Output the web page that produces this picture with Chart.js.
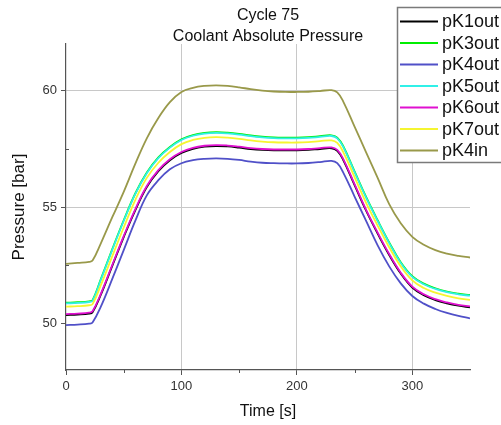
<!DOCTYPE html>
<html>
<head>
<meta charset="utf-8">
<script src="https://cdn.jsdelivr.net/npm/chart.js@4"></script>
<style>
html,body{margin:0;padding:0;background:#fff;}
#wrap{width:501px;height:425px;}
</style>
</head>
<body>
<div id="wrap"><canvas id="c" width="501" height="425"></canvas></div>
<script>
const titleLines = ['Cycle 75', 'Coolant Absolute Pressure'];
const xTitle = 'Time [s]';
const yTitle = 'Pressure [bar]';
const seriesNames = ['pK1out','pK3out','pK4out','pK5out','pK6out','pK7out','pK4in'];
const xMinorTicks = [50, 150, 250];
const yMinorTicks = [52.5, 57.5];

const times = [0,10,20,23,30,40,50,60,70,80,90,100,110,120,130,140,150,160,170,180,190,200,210,220,230,235,240,250,260,270,280,290,300,310,320,330,340,350];

const pK1out = [50.36,50.38,50.42,50.48,51.21,52.46,53.71,54.86,55.86,56.54,57.01,57.32,57.50,57.59,57.62,57.60,57.55,57.49,57.45,57.43,57.43,57.43,57.45,57.49,57.52,57.41,57.04,55.94,54.84,53.86,52.94,52.14,51.54,51.21,51.00,50.86,50.76,50.69];
const pK3out = [50.89,50.91,50.95,51.00,51.88,53.18,54.43,55.58,56.48,57.13,57.58,57.91,58.09,58.18,58.21,58.19,58.14,58.07,58.02,57.99,57.98,57.98,58.00,58.04,58.08,57.98,57.63,56.53,55.43,54.43,53.48,52.63,52.03,51.71,51.51,51.37,51.28,51.22];
const pK4out = [49.93,49.95,49.99,50.04,50.70,51.90,53.15,54.40,55.50,56.15,56.62,56.88,57.01,57.07,57.09,57.07,57.02,56.95,56.90,56.88,56.87,56.87,56.89,56.93,56.98,56.88,56.50,55.45,54.40,53.35,52.45,51.72,51.18,50.85,50.62,50.45,50.32,50.22];
const pK5out = [50.86,50.88,50.92,50.97,51.85,53.15,54.40,55.55,56.45,57.10,57.55,57.88,58.06,58.15,58.18,58.16,58.11,58.04,57.99,57.96,57.95,57.95,57.97,58.01,58.05,57.95,57.60,56.50,55.40,54.40,53.45,52.60,52.00,51.68,51.48,51.34,51.25,51.19];
const pK6out = [50.40,50.42,50.46,50.52,51.25,52.50,53.75,54.90,55.90,56.58,57.05,57.36,57.54,57.63,57.66,57.64,57.59,57.53,57.49,57.47,57.47,57.47,57.49,57.53,57.56,57.45,57.08,55.98,54.88,53.90,52.98,52.18,51.58,51.25,51.04,50.90,50.80,50.73];
const pK7out = [50.72,50.74,50.78,50.83,51.62,52.88,54.12,55.30,56.25,56.90,57.36,57.70,57.88,57.97,58.00,57.98,57.93,57.86,57.81,57.78,57.77,57.77,57.79,57.83,57.86,57.75,57.38,56.28,55.18,54.20,53.27,52.45,51.85,51.52,51.32,51.18,51.08,51.01];
const pK4in = [52.56,52.60,52.64,52.70,53.42,54.55,55.65,56.85,57.95,58.82,59.50,59.94,60.12,60.20,60.22,60.20,60.14,60.06,60.00,59.96,59.94,59.94,59.95,59.98,60.02,59.92,59.55,58.45,57.35,56.25,55.12,54.30,53.72,53.38,53.15,53.00,52.90,52.83];

const seriesValues = [pK1out, pK3out, pK4out, pK5out, pK6out, pK7out, pK4in];
const colors = ['#000000','#00ee00','#5050c8','#30f0e8','#e010d0','#f5f530','#99994a'];

const FONT = "'Liberation Sans', Arial, sans-serif";

const datasets = seriesNames.map((name, i) => ({
  label: name,
  data: times.map((t, k) => ({x: t, y: seriesValues[i][k]})),
  borderColor: colors[i],
  backgroundColor: colors[i],
  borderWidth: 1.8,
  pointRadius: 0,
  fill: false,
  tension: 0.4,
  order: seriesNames.length - i
}));

const extras = {
  id: 'extras',
  afterDraw(chart) {
    const ctx = chart.ctx;
    const xs = chart.scales.x, ys = chart.scales.y;
    const area = chart.chartArea;
    ctx.save();
    ctx.strokeStyle = '#555';
    ctx.lineWidth = 1;
    xMinorTicks.forEach(v => {
      const px = Math.round(xs.getPixelForValue(v)) + 0.5;
      ctx.beginPath(); ctx.moveTo(px, area.bottom); ctx.lineTo(px, area.bottom + 3); ctx.stroke();
    });
    yMinorTicks.forEach(v => {
      const py = Math.round(ys.getPixelForValue(v)) + 0.5;
      ctx.beginPath(); ctx.moveTo(area.left, py); ctx.lineTo(area.left + 3, py); ctx.stroke();
    });
    ctx.fillStyle = '#111';
    ctx.font = '16px ' + FONT;
    ctx.textAlign = 'center';
    ctx.textBaseline = 'middle';
    const cx = (area.left + area.right) / 2;
    ctx.fillText(titleLines[0], cx, 15.5);
    ctx.fillText(titleLines[1], cx, 36.5);
    const lx = 397, ly = 7, lw = 110, lh = 155;
    ctx.fillStyle = '#fff';
    ctx.fillRect(lx, ly, lw, lh);
    ctx.strokeStyle = '#7a7a7a';
    ctx.lineWidth = 1.5;
    ctx.strokeRect(lx + 0.5, ly + 0.5, lw, lh);
    ctx.font = '18px ' + FONT;
    ctx.textAlign = 'left';
    ctx.textBaseline = 'middle';
    chart.data.datasets.forEach((ds, i) => {
      const y = 21.5 + i * 21.5;
      ctx.strokeStyle = ds.borderColor;
      ctx.lineWidth = 2;
      ctx.beginPath(); ctx.moveTo(400, y); ctx.lineTo(438, y); ctx.stroke();
      ctx.fillStyle = '#111';
      ctx.fillText(ds.label, 442, y + 1);
    });
    ctx.restore();
  }
};

new Chart(document.getElementById('c'), {
  type: 'line',
  data: { datasets },
  options: {
    responsive: false,
    animation: false,
    events: [],
    layout: { padding: { top: 44, right: 31, left: 0, bottom: 0 } },
    plugins: { legend: { display: false }, tooltip: { enabled: false }, title: { display: false } },
    scales: {
      x: {
        type: 'linear', min: 0, max: 350,
        ticks: { stepSize: 100, includeBounds: false, color: '#333', font: { family: FONT, size: 13 }, padding: 4, maxRotation: 0 },
        grid: {
          color: c => (c.tick && [100,200,300].includes(c.tick.value)) ? '#c8c8c8' : 'rgba(0,0,0,0)',
          tickColor: '#555', tickLength: 5, lineWidth: 1
        },
        border: { display: true, color: '#555', width: 1.2 },
        title: { display: true, text: xTitle, color: '#111', font: { family: FONT, size: 16 }, padding: { top: 4, bottom: 4 } },
        afterFit(s) { s.height = 55; }
      },
      y: {
        type: 'linear', min: 48, max: 62,
        ticks: { stepSize: 5, includeBounds: false, color: '#333', font: { family: FONT, size: 13 }, padding: 4 },
        grid: {
          color: c => (c.tick && [55,60].includes(c.tick.value)) ? '#c8c8c8' : 'rgba(0,0,0,0)',
          tickColor: '#555', tickLength: 5, lineWidth: 1
        },
        border: { display: true, color: '#555', width: 1.2 },
        title: { display: true, text: yTitle, color: '#111', font: { family: FONT, size: 17 }, padding: { top: 9, bottom: 4 } },
        afterFit(s) { s.width = 66; }
      }
    }
  },
  plugins: [extras]
});
</script>
</body>
</html>
